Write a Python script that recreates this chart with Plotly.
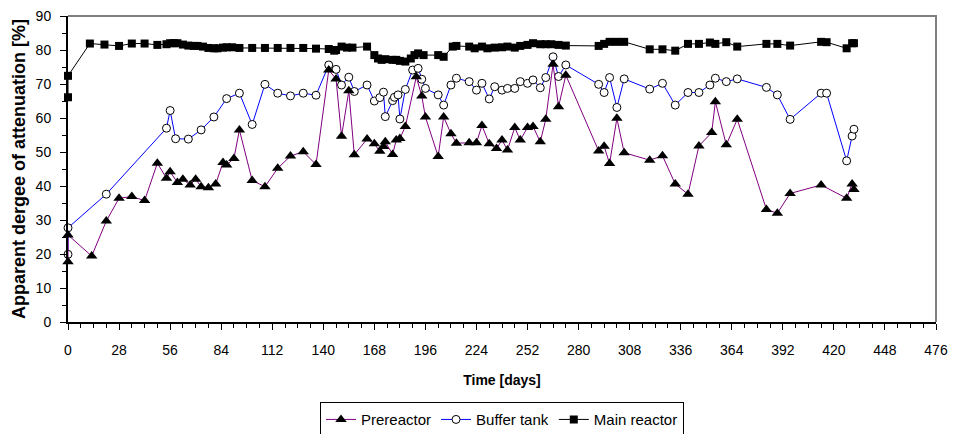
import plotly.graph_objects as go

# Prereactor: day, apparent degree of attenuation [%]
pre_days = [0, 0, 13, 21, 28, 35, 42, 49, 54, 56, 60, 63, 67, 70, 73, 77, 81, 85,
            87, 91, 94, 101, 108, 115, 122, 129, 136, 143, 147, 150, 154, 157, 164,
            168, 171, 173, 174, 178, 180, 182, 185, 191, 194, 196, 203, 206, 210,
            213, 220, 224, 227, 231, 235, 238, 241, 245, 248, 252, 255, 259, 262,
            266, 269, 273, 291, 294, 297, 301, 305, 319, 326, 333, 340, 346, 353,
            355, 361, 367, 383, 389, 396, 413, 427, 430, 431]
pre_vals = [17.7, 25.6, 19.4, 29.7, 36.4, 36.9, 35.7, 46.7, 42.3, 44.2, 41.0, 42.0,
            40.3, 42.0, 39.8, 39.5, 40.6, 46.9, 46.2, 48.1, 56.5, 41.6, 39.8, 45.2,
            48.8, 50.1, 46.3, 74.1, 71.5, 54.6, 68.0, 49.2, 53.8, 52.4, 50.2, 51.6,
            53.0, 49.3, 53.5, 54.0, 57.5, 72.1, 66.5, 60.3, 48.7, 60.3, 55.4, 52.6,
            52.7, 52.7, 57.8, 52.4, 51.0, 53.5, 50.6, 57.2, 53.5, 57.2, 57.5, 53.0,
            59.6, 75.8, 63.3, 72.6, 50.3, 51.7, 46.6, 59.9, 49.8, 47.6, 48.9, 40.6,
            37.6, 51.8, 55.7, 64.8, 52.1, 59.6, 33.1, 32.0, 37.8, 40.3, 36.4, 40.6,
            39.0]

# Buffer tank
buf_days = [0, 0, 21, 54, 56, 59, 66, 73, 80, 87, 94, 101, 108, 115, 122, 129, 136,
            143, 147, 150, 154, 157, 164, 168, 171, 173, 174, 178, 179, 181, 182,
            185, 189, 192, 194, 196, 203, 206, 210, 213, 220, 224, 227, 231, 234,
            238, 241, 245, 248, 252, 255, 259, 262, 266, 269, 273, 291, 294, 297,
            301, 305, 319, 326, 333, 340, 346, 352, 355, 361, 367, 383, 389, 396,
            413, 416, 427, 430, 431]
buf_vals = [19.9, 27.7, 37.6, 57.0, 62.2, 53.9, 53.8, 56.5, 60.3, 65.7, 67.3, 58.1,
            69.9, 67.3, 66.5, 67.3, 66.7, 75.6, 74.3, 69.7, 72.0, 67.8, 69.7, 65.0,
            66.0, 67.6, 60.4, 65.1, 66.1, 66.8, 59.7, 68.4, 74.1, 74.6, 71.4, 68.7,
            66.8, 63.8, 69.7, 71.7, 70.7, 68.2, 70.2, 65.6, 69.2, 68.2, 68.7, 68.7,
            70.7, 70.2, 71.2, 68.9, 71.9, 78.0, 72.2, 75.6, 69.9, 67.5, 71.9, 63.1,
            71.5, 68.5, 70.2, 63.8, 67.5, 67.5, 69.7, 71.7, 70.7, 71.5, 69.0, 66.8,
            59.6, 67.3, 67.3, 47.4, 54.7, 56.7]

# Main reactor
main_days = [0, 0, 12, 20, 28, 35, 42, 49, 54, 56, 58, 60, 63, 66, 69, 71, 74, 77,
             80, 82, 85, 87, 90, 94, 101, 108, 115, 122, 129, 136, 143, 146, 147,
             150, 153, 156, 164, 168, 170, 172, 174, 178, 180, 182, 185, 188, 190,
             192, 195, 203, 206, 211, 213, 220, 223, 227, 230, 234, 238, 241, 245,
             248, 252, 255, 259, 262, 265, 269, 273, 291, 294, 297, 301, 305, 319,
             326, 333, 340, 346, 352, 355, 361, 367, 383, 389, 396, 413, 416, 427,
             430, 431]
main_vals = [66.1, 72.4, 81.9, 81.6, 81.2, 81.9, 81.9, 81.5, 81.7, 82.0, 82.0, 82.0,
             81.6, 81.3, 81.2, 81.2, 81.0, 80.6, 80.5, 80.5, 80.7, 80.8, 80.8, 80.6,
             80.6, 80.6, 80.6, 80.6, 80.6, 80.4, 80.3, 79.8, 80.0, 81.0, 80.7, 80.7,
             81.0, 78.5, 77.5, 77.1, 77.3, 77.1, 77.1, 76.8, 76.6, 77.5, 78.5, 79.0,
             78.5, 78.5, 78.0, 81.0, 81.2, 81.0, 80.5, 81.0, 80.5, 80.7, 80.8, 81.0,
             80.7, 81.2, 81.5, 82.0, 81.7, 81.7, 81.7, 81.5, 81.3, 81.2, 81.8, 82.4,
             82.4, 82.4, 80.2, 80.2, 79.8, 81.8, 81.8, 82.2, 81.8, 82.3, 81.0, 81.8,
             81.8, 81.3, 82.4, 82.3, 80.5, 82.0, 82.0]

x_ticks = list(range(0, 477, 28))

FONT = "Liberation Sans, Arial, sans-serif"

fig = go.Figure()

fig.add_trace(go.Scatter(
    x=main_days, y=main_vals, name="Main reactor", mode="lines+markers",
    line=dict(color="black", width=1),
    marker=dict(symbol="square", size=8, color="black"),
    cliponaxis=False, legendrank=3,
))
fig.add_trace(go.Scatter(
    x=buf_days, y=buf_vals, name="Buffer tank", mode="lines+markers",
    line=dict(color="#0000FF", width=1),
    marker=dict(symbol="circle", size=8, color="white",
                line=dict(color="black", width=1)),
    cliponaxis=False, legendrank=2,
))
fig.add_trace(go.Scatter(
    x=pre_days, y=pre_vals, name="Prereactor", mode="lines+markers",
    line=dict(color="#800080", width=1),
    marker=dict(symbol="triangle-up", size=10, color="black"),
    cliponaxis=False, legendrank=1,
))

fig.update_layout(
    width=954, height=434,
    margin=dict(l=68, r=18, t=16, b=112, autoexpand=False),
    paper_bgcolor="white", plot_bgcolor="white",
    font=dict(family=FONT, size=14, color="black"),
    showlegend=True,
    legend=dict(
        orientation="h", x=0.5, xanchor="center", y=-0.262, yanchor="top",
        bordercolor="black", borderwidth=1, font=dict(size=15),
        itemwidth=30, tracegroupgap=0,
    ),
    shapes=[dict(
        type="path", xref="paper", yref="paper",
        path="M 0,1 L 1,1 L 1,0", line=dict(color="#808080", width=2),
        layer="below",
    )],
)

fig.update_xaxes(
    range=[0, 476], tickvals=x_ticks, ticktext=[str(t) for t in x_ticks],
    showline=True, linecolor="black", linewidth=2, showgrid=False, zeroline=False,
    ticks="outside", ticklen=6, tickcolor="black", tickwidth=1,
    minor=dict(dtick=7, tick0=0, ticks="outside", ticklen=4, tickcolor="black"),
    ticklabelstandoff=8,
    title=dict(text="<b>Time [days]</b>", font=dict(size=14), standoff=18),
)
fig.update_yaxes(
    range=[0, 90], dtick=10, tick0=0,
    showline=True, linecolor="black", linewidth=2, showgrid=False, zeroline=False,
    ticks="outside", ticklen=6, tickcolor="black", tickwidth=1,
    minor=dict(dtick=5, tick0=0, ticks="outside", ticklen=4, tickcolor="black"),
    ticklabelstandoff=6,
    title=dict(text="<b>Apparent dergee of attenuation [%]</b>",
               font=dict(size=18), standoff=5),
)

fig.write_html("out.html")
